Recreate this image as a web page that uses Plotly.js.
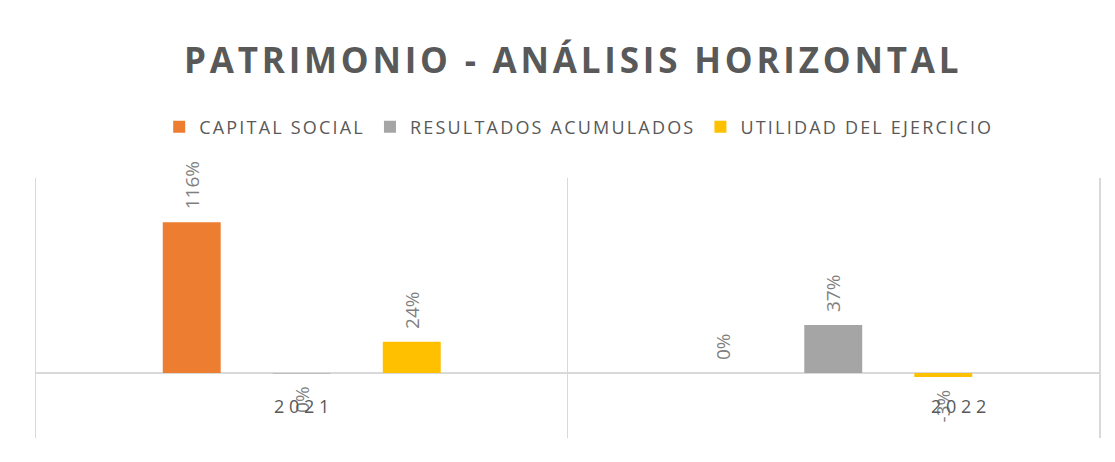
<!DOCTYPE html>
<html>
<head>
<meta charset="utf-8">
<script src="https://cdn.plot.ly/plotly-3.0.1.min.js"></script>
<style>
  html, body { margin: 0; padding: 0; background: #ffffff; }
  #wrap { position: relative; width: 1115px; height: 462px; }
  #edge { position: absolute; left: 6px; top: 11px; width: 1px; height: 451px; background: #d9d9d9; }
  #chart { position: absolute; left: 0; top: 0; width: 1115px; height: 462px; }
  .gtitle { letter-spacing: 3.8px; }
  .legendtext { letter-spacing: 2.2px; }
</style>
</head>
<body>
<div id="wrap">
  <div id="edge"></div>
  <div id="chart"></div>
</div>
<script>
// ---- data ----
const categories = ["2021", "2022"];
const tickLabels = ["2 0 2 1", "2 0 2 2"];
const seriesNames = ["CAPITAL SOCIAL", "RESULTADOS ACUMULADOS", "UTILIDAD DEL EJERCICIO"];
const capitalSocial = [116, 0];
const resultadosAcumulados = [-0.4, 37];
const utilidadEjercicio = [24, -3];

// ---- styles ----
const colors = ["#ED7D31", "#A5A5A5", "#FFC000"];
const seriesValues = [capitalSocial, resultadosAcumulados, utilidadEjercicio];
const barW = 0.109;
const centers = [-0.207, 0, 0.207];
const pad = "\u00a0\u00a0";

function labelFor(v) {
  const s = Math.round(v) === 0 ? "0%" : Math.round(v) + "%";
  return v < 0 ? s + pad : pad + s;
}

const traces = seriesValues.map((vals, i) => ({
  type: "bar",
  name: seriesNames[i],
  x: categories,
  y: vals,
  width: vals.map(() => barW),
  offset: vals.map(() => centers[i] - barW / 2),
  marker: { color: colors[i] },
  text: vals.map(labelFor),
  textposition: "outside",
  textangle: -90,
  constraintext: "none",
  cliponaxis: false,
  textfont: { family: "Open Sans", size: 19, color: "#7F7F7F" },
  hoverinfo: "skip"
}));

// category labels as annotations (Excel placed the second one off-centre)
const labelShift = [0, 125];
const annotations = categories.map((c, i) => ({
  x: i, xref: "x",
  y: 0, yref: "y",
  yshift: -33,
  xshift: labelShift[i],
  text: tickLabels[i],
  showarrow: false,
  font: { family: "Open Sans", size: 18, color: "#595959" }
}));

const layout = {
  width: 1115,
  height: 462,
  margin: { l: 36, r: 16, t: 178, b: 24 },
  paper_bgcolor: "#ffffff",
  plot_bgcolor: "#ffffff",
  barmode: "group",
  showlegend: true,
  title: {
    text: "<b>PATRIMONIO - ANÁLISIS HORIZONTAL</b>",
    font: { family: "Open Sans", size: 35, color: "#595959" },
    x: 0.514, xref: "container", xanchor: "center",
    y: 1 - 61 / 462, yref: "container", yanchor: "middle"
  },
  legend: {
    orientation: "h",
    x: 0.511, xanchor: "center",
    y: 1.196, yanchor: "middle",
    font: { family: "Open Sans", size: 18, color: "#595959" },
    itemclick: false, itemdoubleclick: false,
    traceorder: "normal"
  },
  xaxis: {
    type: "category",
    range: [-0.5, 1.5],
    tickson: "boundaries",
    showgrid: true,
    gridcolor: "#D9D9D9",
    gridwidth: 1.5,
    showticklabels: false,
    ticks: "",
    showline: false,
    zeroline: false,
    fixedrange: true
  },
  yaxis: {
    range: [-50, 150],
    showgrid: false,
    showticklabels: false,
    zeroline: true,
    zerolinecolor: "#D9D9D9",
    zerolinewidth: 1.5,
    showline: true,
    mirror: true,
    linecolor: "#D9D9D9",
    linewidth: 1.5,
    ticks: "",
    fixedrange: true
  },
  annotations: annotations
};

Plotly.newPlot("chart", traces, layout, { displayModeBar: false, staticPlot: true });
</script>
</body>
</html>
